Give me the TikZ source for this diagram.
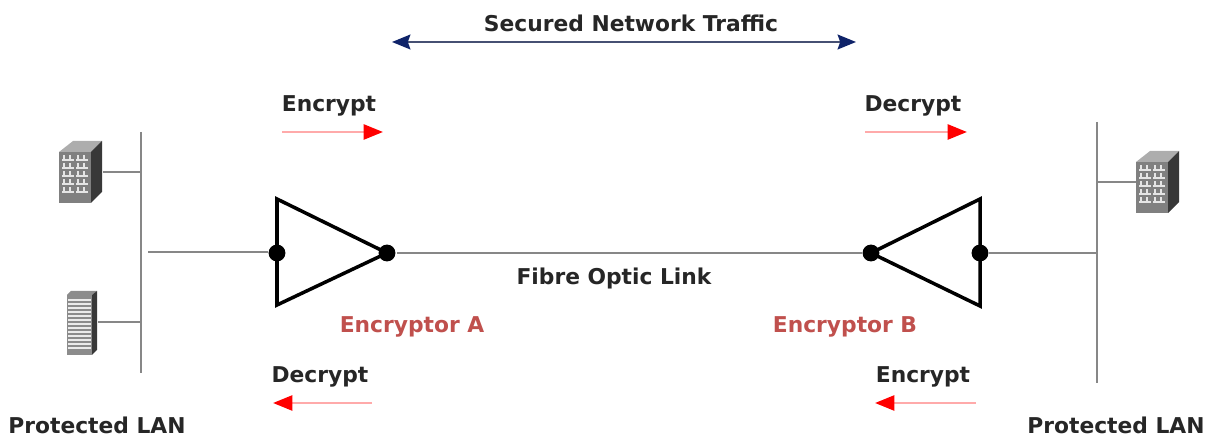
\documentclass[tikz,border=0pt]{standalone}
\usepackage{fontspec}
\setmainfont{DejaVu Sans}
\usetikzlibrary{arrows.meta}
\definecolor{lightr}{RGB}{255,170,170}
\definecolor{darkn}{RGB}{15,35,105}
\definecolor{shaftn}{RGB}{70,80,115}
\definecolor{encname}{RGB}{192,80,77}
\definecolor{wire}{RGB}{135,135,135}
\newcommand{\towerblock}[1]{%
  \begin{scope}[shift={(#1)}]
    \fill[black!32] (0,0) -- (14,-11) -- (43,-11) -- (32,0) -- cycle;
    \fill[black!78] (32,0) -- (43,-11) -- (43,40) -- (32,51) -- cycle;
    \fill[black!50] (0,0) rectangle (32,51);
    \foreach \col in {3,17} \foreach \row in {3,11,19,27,35} {
      \fill[black!10] (\col,\row+4) rectangle +(12,2);
      \fill[black!10] (\col+1,\row) rectangle +(1.5,4);
      \fill[black!10] (\col+7,\row) rectangle +(1.5,4);
    }
  \end{scope}}
\newcommand{\rackblock}[1]{%
  \begin{scope}[shift={(#1)}]
    \fill[black!45] (0,0) -- (4,-4) -- (30,-4) -- (25,0) -- cycle;
    \fill[black!78] (25,0) -- (30,-4) -- (30,55) -- (25,60) -- cycle;
    \fill[black!45] (0,0) rectangle (25,60);
    \foreach \row in {4,8,...,52}
      \fill[black!8] (1,\row) rectangle +(23,2);
  \end{scope}}
\begin{document}
\begin{tikzpicture}[x=0.02cm,y=-0.02cm,
    label/.style={font=\bfseries\fontsize{12.4}{14}\selectfont, text=black!85, inner sep=0pt},
    unit/.style={font=\bfseries\fontsize{12.4}{14}\selectfont, text=encname, inner sep=0pt},
    wireline/.style={draw=wire, line width=1.5pt},
    tri/.style={draw=black, line width=2pt, line join=miter},
    port/.style={circle, fill=black, minimum size=9.6pt, inner sep=0pt},
    flow/.style={draw=lightr, line width=1.5pt, -{Stealth[red, length=11pt, width=8.5pt, inset=0pt]}},
    secure/.style={draw=shaftn, line width=0.9pt, {Stealth[darkn, length=10.5pt, width=8.5pt, inset=1.5pt]}-{Stealth[darkn, length=10.5pt, width=8.5pt, inset=1.5pt]}}]
  \useasboundingbox (0,0) rectangle (1211,438);
  % left and right bus
  \coordinate (busltop) at (141,132);
  \coordinate (buslbot) at (141,373);
  \coordinate (busrtop) at (1097,122);
  \coordinate (busrbot) at (1097,383);
  \draw[wireline] (busltop) -- (buslbot);
  \draw[wireline] (busrtop) -- (busrbot);
  % hosts
  \towerblock{59,152}
  \rackblock{67,295}
  \towerblock{1136,162}
  \coordinate (hosta) at (103,172);
  \coordinate (hostb) at (98,322);
  \coordinate (hostc) at (1136,182);
  \draw[wireline] (hosta) -- (hosta -| busltop);
  \draw[wireline] (hostb) -- (hostb -| busltop);
  \draw[wireline] (hostc) -- (hostc -| busrtop);
  % encryptors
  \node[port] (ainner) at (277,253) {};
  \node[port] (aouter) at (387,253) {};
  \node[port] (bouter) at (871,253) {};
  \node[port] (binner) at (980,253) {};
  \draw[tri] (277,199) -- (aouter.center) -- (277,305) -- cycle;
  \draw[tri] (980,199) -- (bouter.center) -- (980,306) -- cycle;
  \coordinate (lanl) at (148,252);
  \coordinate (fibrea) at (397,253);
  \draw[wireline] (lanl) -- (lanl -| ainner.west);
  \draw[wireline] (fibrea) -- (bouter);
  \draw[wireline] (binner) -- (binner -| busrtop);
  % traffic arrows
  \coordinate (seca) at (392,42);
  \coordinate (secb) at (856,42);
  \draw[secure] (seca) -- (secb);
  \coordinate (enca) at (282,132);
  \coordinate (encb) at (383,132);
  \coordinate (deca) at (865,132);
  \coordinate (decb) at (967,132);
  \coordinate (decc) at (372,403);
  \coordinate (decd) at (273,403);
  \coordinate (ence) at (976,403);
  \coordinate (encf) at (875,403);
  \draw[flow] (enca) -- (encb);
  \draw[flow] (deca) -- (decb);
  \draw[flow] (decc) -- (decd);
  \draw[flow] (ence) -- (encf);
  % labels
  \node[label] (secured) at (631,23) {Secured Network Traffic};
  \node[label] (topenc) at (329,106) {Encrypt};
  \node[label] (topdec) at (913,106) {Decrypt};
  \node[label] (lowdec) at (320,377) {Decrypt};
  \node[label] (lowenc) at (923,377) {Encrypt};
  \node[label] (fibre) at (614,278) {Fibre Optic Link};
  \node[unit] (enca name) at (412,327) {Encryptor A};
  \node[unit] (encb name) at (845,327) {Encryptor B};
  \node[label] (lanleft) at (97,425) {Protected LAN};
  \node[label] (lanright) at (1116,425) {Protected LAN};
\end{tikzpicture}
\end{document}
